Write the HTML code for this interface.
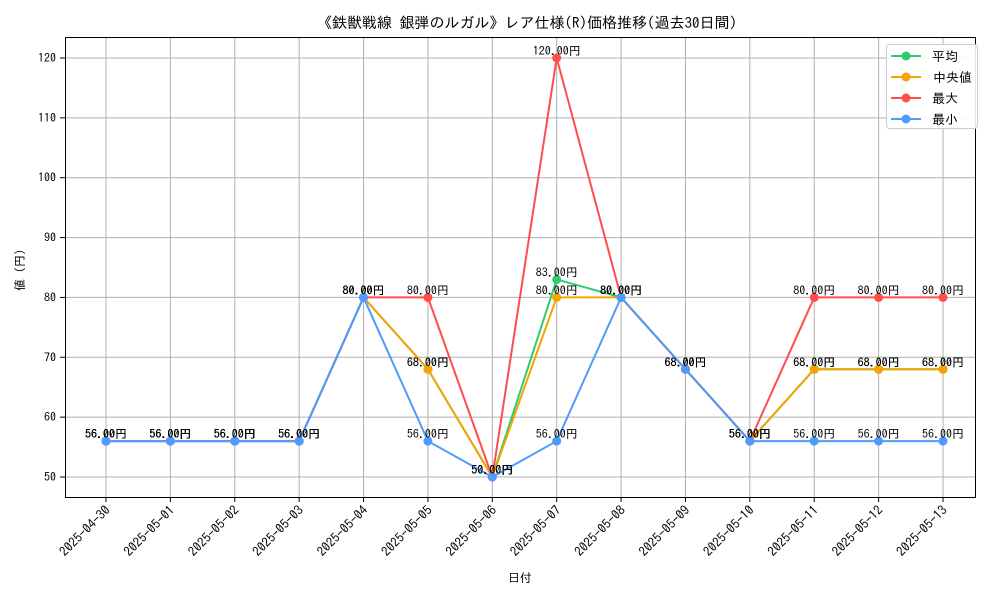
<!DOCTYPE html>
<html><head><meta charset="utf-8"><style>
body{margin:0;background:#fff;}
svg{display:block;font-family:"IPAGothic","Noto Sans CJK JP",sans-serif;}
</style></head><body>
<svg id="chart" width="1000" height="600">
<text x="527" y="28" text-anchor="middle" font-size="15">《鉄獣戦線 銀弾のルガル》レア仕様(R)価格推移(過去30日間)</text>
<g id="grid"></g>
<rect x="65.5" y="37.5" width="910" height="460" fill="none" stroke="#000" stroke-width="1"/>
<g id="axes"></g>
<g id="series"></g>
<text x="520" y="582" text-anchor="middle" font-size="12">日付</text>
<text transform="translate(24,270) rotate(-90)" text-anchor="middle" font-size="12">値 (円)</text>
<g>
<rect x="886.5" y="44.5" width="91" height="84" rx="3" fill="#fff" fill-opacity="0.9" stroke="#ccc"/>
<g id="legend-items"></g>
</g>
</svg>
<script>
const dates=["2025-04-30","2025-05-01","2025-05-02","2025-05-03","2025-05-04","2025-05-05","2025-05-06","2025-05-07","2025-05-08","2025-05-09","2025-05-10","2025-05-11","2025-05-12","2025-05-13"];
const avgVals=[56,56,56,56,80,68,50,83,80,68,56,68,68,68];
const medVals=[56,56,56,56,80,68,50,80,80,68,56,68,68,68];
const maxVals=[56,56,56,56,80,80,50,120,80,68,56,80,80,80];
const minVals=[56,56,56,56,80,56,50,56,80,68,56,56,56,56];
const yTicks=[50,60,70,80,90,100,110,120];
const seriesNames=["平均","中央値","最大","最小"];
const colors=["#2ecc71","#f5a300","#ff4d4d","#4d9bff"];
const NS="http://www.w3.org/2000/svg";
function xs(i){return 106+i*(943-106)/(dates.length-1);}
function ys(v){return 477-(v-50)*(419/70);}
function mk(tag,attrs,parent){const e=document.createElementNS(NS,tag);for(const k in attrs)e.setAttribute(k,attrs[k]);parent.appendChild(e);return e;}
const grid=document.getElementById('grid'),axes=document.getElementById('axes'),ser=document.getElementById('series'),leg=document.getElementById('legend-items');
dates.forEach((d,i)=>{
 const x=xs(i);
 const g=mk('line',{x1:x,x2:x,y1:37,y2:497,stroke:'#b0b0b0','stroke-width':1},grid);
 
 
 mk('line',{x1:x,x2:x,y1:497,y2:502,stroke:'#000'},axes);
 const t=mk('text',{x:x+5,y:511,'text-anchor':'end','font-size':13,transform:`rotate(-45 ${x+5} 511)`},axes);
 t.textContent=d;
 
 
});
yTicks.forEach(v=>{
 const y=ys(v);
 const g=mk('line',{x1:65,x2:975,y1:y,y2:y,stroke:'#b0b0b0','stroke-width':1},grid);
 
 
 mk('line',{x1:60,x2:65,y1:y,y2:y,stroke:'#000'},axes);
 const t=mk('text',{x:56,y:y+4,'text-anchor':'end','font-size':12},axes);
 t.textContent=v;
 
 
});
[avgVals,medVals,maxVals,minVals].forEach((vals,s)=>{
 const g=mk('g',{},ser);
 
 
 const p=mk('polyline',{points:vals.map((v,i)=>xs(i)+','+ys(v)).join(' '),fill:'none',stroke:colors[s],'stroke-width':2},g);
 
 
 vals.forEach((v,i)=>{
  const c=mk('circle',{cx:xs(i),cy:ys(v),r:4.5,fill:colors[s]},g);
  
  
  const t=mk('text',{x:xs(i),y:ys(v)-3,'text-anchor':'middle','font-size':12},g);
  t.textContent=v.toFixed(2)+'円';
  
  
 });
});
seriesNames.forEach((n,s)=>{
 const y=56+s*21;
 const g=mk('g',{},leg);
 
 
 mk('line',{x1:891,x2:921,y1:y,y2:y,stroke:colors[s],'stroke-width':2},g);
 mk('circle',{cx:906,cy:y,r:4.5,fill:colors[s]},g);
 const t=mk('text',{x:932+(s==1?1:0),y:y+5,'font-size':13},g);
 t.textContent=n;
});
</script>
</body></html>
